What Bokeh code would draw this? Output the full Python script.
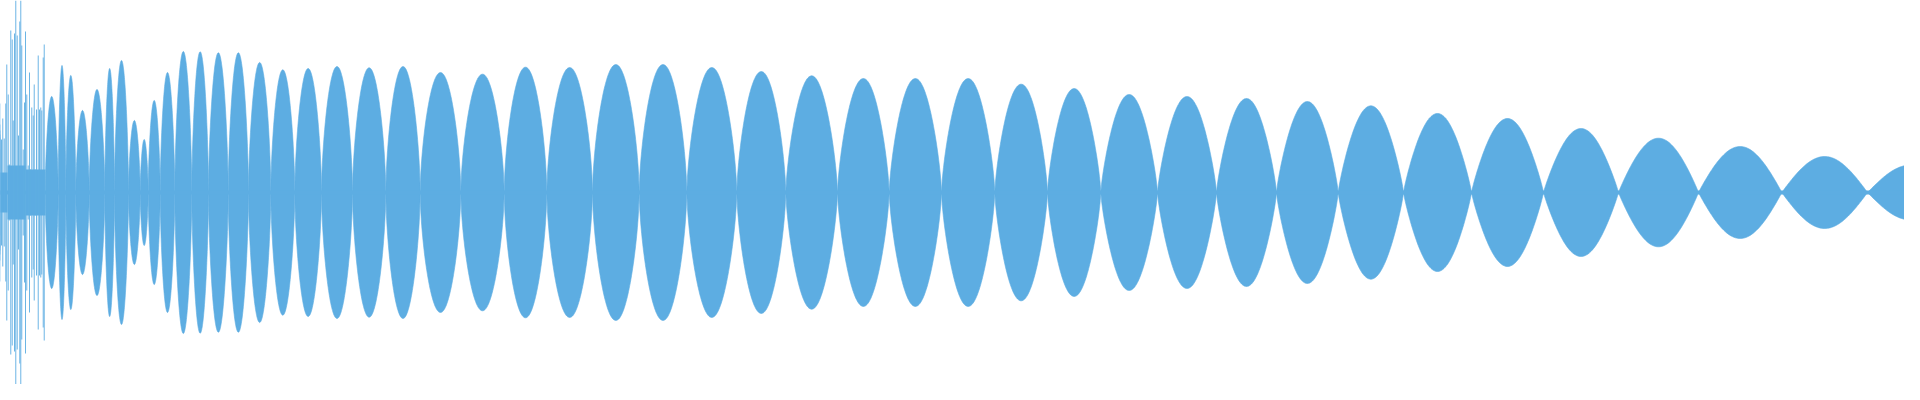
import numpy as np
from bokeh.plotting import figure
from bokeh.embed import file_html
from bokeh.resources import INLINE

# ---- data (sample position, half-amplitude) ----
# boundaries (nodes) of the smooth lobes of the waveform
lobe_nodes = [52.7, 65.7, 73.3, 83.3, 96.7, 112.3, 122, 136, 147.7, 155.7,
              167.7, 182.3, 199.3, 216, 235.7, 256, 278.3, 302.3, 329, 360,
              393.3, 427.7, 468.3, 511.7, 554.3, 600, 646.7, 694.3, 744.3, 793.3,
              845, 896.7, 949, 1002.3, 1055, 1108.3, 1165, 1224, 1284, 1345.7,
              1411, 1479, 1551, 1626, 1706, 1789.3, 1875, 1960]
# peak half-amplitude of each lobe
lobe_peaks = [96, 127, 117, 82, 103, 124, 132, 72, 53, 92,
              120, 141, 140.7, 139.7, 139.7, 130, 122.7, 124, 126, 124.7,
              126, 120, 118.3, 125.3, 125, 128, 128, 125, 121, 116.7,
              114, 114, 114, 108.3, 104, 98, 96, 94, 91, 86.7,
              79, 74, 64, 54.3, 46, 36, 27.3]

# noisy onset: individual spikes
spike_x = [0.5, 1.7, 3, 4.3, 6, 7.3, 9, 10.3, 11.7, 13.3, 14.3, 15.7, 16.7, 18.3,
           19.7, 20.7, 22, 23.3, 24.7, 26, 27.3, 28.3, 29.3, 30.7, 32, 33, 34.3,
           35.7, 37, 38, 39.3, 40.7, 41.7, 42.7, 44, 45.7, 47, 48.3, 49.3, 50.7, 51.7]
spike_amp = [62, 68, 89, 58, 55, 43, 53, 74, 54, 89, 128, 98, 28, 162,
             153, 72, 159, 196, 157, 57, 171, 194, 147, 43, 90, 161, 98,
             27, 120, 23, 85, 77, 108, 23, 83, 137, 83, 85, 82, 135, 148]
# dense core under the onset spikes
core_x = [0, 15, 33]
core_w = [15, 18, 20]
core_amp = [20, 27, 23]

COLOR = "#5DADE2"

p = figure(width=1904, height=384, x_range=(8, 1912), y_range=(-192, 192),
           output_backend="svg", toolbar_location=None,
           x_axis_type=None, y_axis_type=None, min_border=0)
p.outline_line_color = None
p.grid.visible = False
p.background_fill_color = "white"
p.border_fill_color = "white"

# lobes as hump-shaped marks (tall narrow lobes are fuller, wide low ones sine-like)
xs, ys = [], []
for i, a in enumerate(lobe_peaks):
    x0, x1 = lobe_nodes[i], lobe_nodes[i + 1]
    ratio = a / (x1 - x0)
    shape = float(np.clip(1.05 - 0.16 * ratio, 0.6, 1.0))
    t = np.linspace(0, 1, 80)
    xx = x0 + (x1 - x0) * t
    yy = a * np.clip(np.sin(np.pi * t), 0, 1) ** shape
    xs.append(np.concatenate([xx, xx[::-1]]).tolist())
    ys.append(np.concatenate([yy, -yy[::-1]]).tolist())
p.patches(xs=xs, ys=ys, fill_color=COLOR, line_color=COLOR, line_width=0.6)

# thin centre band (minimum bar height)
p.quad(left=[0], right=[1920], bottom=[-2], top=[2],
       fill_color=COLOR, line_color=None)

# onset core and spikes
p.quad(left=core_x, right=[c + w for c, w in zip(core_x, core_w)],
       bottom=[-a for a in core_amp], top=core_amp,
       fill_color=COLOR, line_color=None)
p.vbar(x=spike_x, width=0.9, top=spike_amp, bottom=[-a for a in spike_amp],
       fill_color=COLOR, line_color=None)

open("out.html", "w").write(file_html(p, INLINE))
